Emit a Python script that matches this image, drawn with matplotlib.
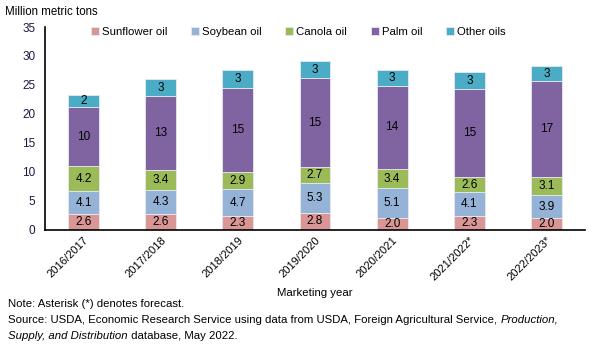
import matplotlib.pyplot as plt
import numpy as np

plt.rcParams['font.family'] = ['Liberation Sans', 'DejaVu Sans']

years = ['2016/2017', '2017/2018', '2018/2019', '2019/2020', '2020/2021', '2021/2022*', '2022/2023*']
sunflower = [2.6, 2.6, 2.3, 2.8, 2.0, 2.3, 2.0]
soybean = [4.1, 4.3, 4.7, 5.3, 5.1, 4.1, 3.9]
canola = [4.2, 3.4, 2.9, 2.7, 3.4, 2.6, 3.1]
palm = [10.3, 12.7, 14.6, 15.3, 14.3, 15.3, 16.6]
other = [2.0, 3.0, 3.0, 3.1, 2.8, 2.9, 2.7]

series = [
    ('Sunflower oil', sunflower, '#DA9694', '{:.1f}'),
    ('Soybean oil', soybean, '#95B3D7', '{:.1f}'),
    ('Canola oil', canola, '#9BBB59', '{:.1f}'),
    ('Palm oil', palm, '#8064A2', '{:.0f}'),
    ('Other oils', other, '#4BACC6', '{:.0f}'),
]

fig = plt.figure(figsize=(5.89, 3.44), dpi=100)
ax = fig.add_axes([45 / 589, 1 - 229.5 / 344, 540 / 589, 202.5 / 344])

x = np.arange(len(years))
bottom = np.zeros(len(years))
for name, vals, color, fmt in series:
    vals = np.array(vals)
    ax.bar(x, vals, 0.4, bottom=bottom, color=color, edgecolor='#e8e8f0',
           linewidth=0.6, label=name)
    for xi, b, v in zip(x, bottom, vals):
        ax.text(xi, b + v / 2, fmt.format(v), ha='center', va='center', fontsize=8.5, color='black')
    bottom += vals

ax.set_xlim(-0.5, len(years) - 0.5)
ax.set_ylim(0, 35)
ax.set_yticks(range(0, 36, 5))
ax.set_xticks(x)
ax.set_xticklabels(years, rotation=45, ha='right', rotation_mode='anchor', fontsize=8)
ax.tick_params(axis='y', length=0, labelsize=8.5, pad=7, labelcolor='#1a1a40')
ax.tick_params(axis='x', length=0, pad=4)
for s in ['top', 'right']:
    ax.spines[s].set_visible(False)
for s in ['left', 'bottom']:
    ax.spines[s].set_linewidth(1.2)

ax.legend(loc='upper center', bbox_to_anchor=(0.469, 1.05), ncol=5, frameon=False,
          fontsize=8.2, handlelength=0.7, handleheight=0.7, handletextpad=0.25,
          columnspacing=2.1)

fig.text(5 / 589, 1 - 12 / 344, 'Million metric tons', fontsize=8.3, va='center', ha='left')
fig.text(315 / 589, 1 - 293 / 344, 'Marketing year', fontsize=8.2, va='center', ha='center')
fig.text(8 / 589, 1 - 304 / 344, 'Note: Asterisk (*) denotes forecast.', fontsize=8.2, va='center')


def text_run(parts, x0, y):
    # draw pieces one after another, some of them italic
    fig.canvas.draw()
    r = fig.canvas.get_renderer()
    xpos = x0
    for s, style in parts:
        t = fig.text(xpos, y, s, fontsize=8.2, va='center', style=style)
        bb = t.get_window_extent(renderer=r)
        xpos += bb.width / fig.bbox.width


text_run([('Source: USDA, Economic Research Service using data from USDA, Foreign Agricultural Service, ', 'normal'),
          ('Production,', 'italic')], 8 / 589, 1 - 320 / 344)
text_run([('Supply, and Distribution', 'italic'), (' database, May 2022.', 'normal')], 8 / 589, 1 - 336 / 344)

fig.savefig('out.png', dpi=100)
